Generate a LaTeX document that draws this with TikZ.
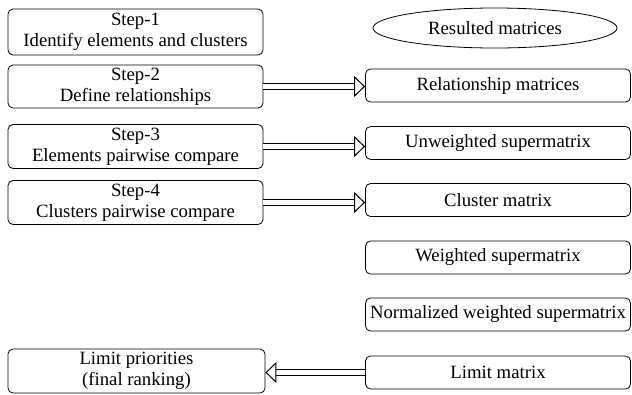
\documentclass[tikz,border=0pt]{standalone}
\usepackage{fontspec}
\setmainfont{Liberation Serif}
\usetikzlibrary{shapes.geometric,arrows.meta}

\tikzset{
  stepbox/.style={draw,rounded corners=5bp,line width=0.8pt,align=center,inner sep=0pt,
    minimum width=255bp,minimum height=44bp,font=\fontsize{18.8}{21}\selectfont},
  matbox/.style={draw,rounded corners=5bp,line width=0.8pt,inner sep=0pt,
    minimum width=265bp,minimum height=33bp,font=\fontsize{18.8}{21}\selectfont},
  hollowarrow/.style={double,double distance=5bp,line width=1bp,
    -{Triangle[open,fill=white,length=11bp,width=21bp]}}
}

\begin{document}
\begin{tikzpicture}[x=1bp,y=-1bp]
\useasboundingbox (0,0) rectangle (632,394);
\node[stepbox,minimum height=46bp] (step1) at (135.5,32) {Step-1\\Identify elements and clusters};
\node[stepbox,minimum height=43bp] (step2) at (135.5,86.5) {Step-2\\Define relationships};
\node[stepbox] (step3) at (135.5,146.5) {Step-3\\Elements pairwise compare};
\node[stepbox] (step4) at (135.5,202.5) {Step-4\\Clusters pairwise compare};
\node[stepbox,minimum width=257bp] (limprio) at (136.5,371) {Limit priorities\\(final ranking)};
\node[draw,ellipse,line width=0.8pt,inner sep=0pt,minimum width=244bp,minimum height=40bp,
  font=\fontsize{18.8}{21}\selectfont] (result) at (495,28) {Resulted matrices};
\node[matbox] (relmat) at (498,85.5) {Relationship matrices};
\node[matbox] (unwmat) at (498,143) {Unweighted supermatrix};
\node[matbox] (clumat) at (498,200) {Cluster matrix};
\node[matbox] (wgtmat) at (498,257.5) {Weighted supermatrix};
\node[matbox] (normat) at (498,314.5) {Normalized weighted supermatrix};
\node[matbox] (limmat) at (498,372.5) {Limit matrix};
\draw[hollowarrow] (step2.east) -- (relmat.west |- step2.east);
\draw[hollowarrow] (step3.east) -- (unwmat.west |- step3.east);
\draw[hollowarrow] (step4.east) -- (clumat.west |- step4.east);
\draw[hollowarrow] (limmat.west) -- (limprio.east |- limmat.west);
\end{tikzpicture}
\end{document}
